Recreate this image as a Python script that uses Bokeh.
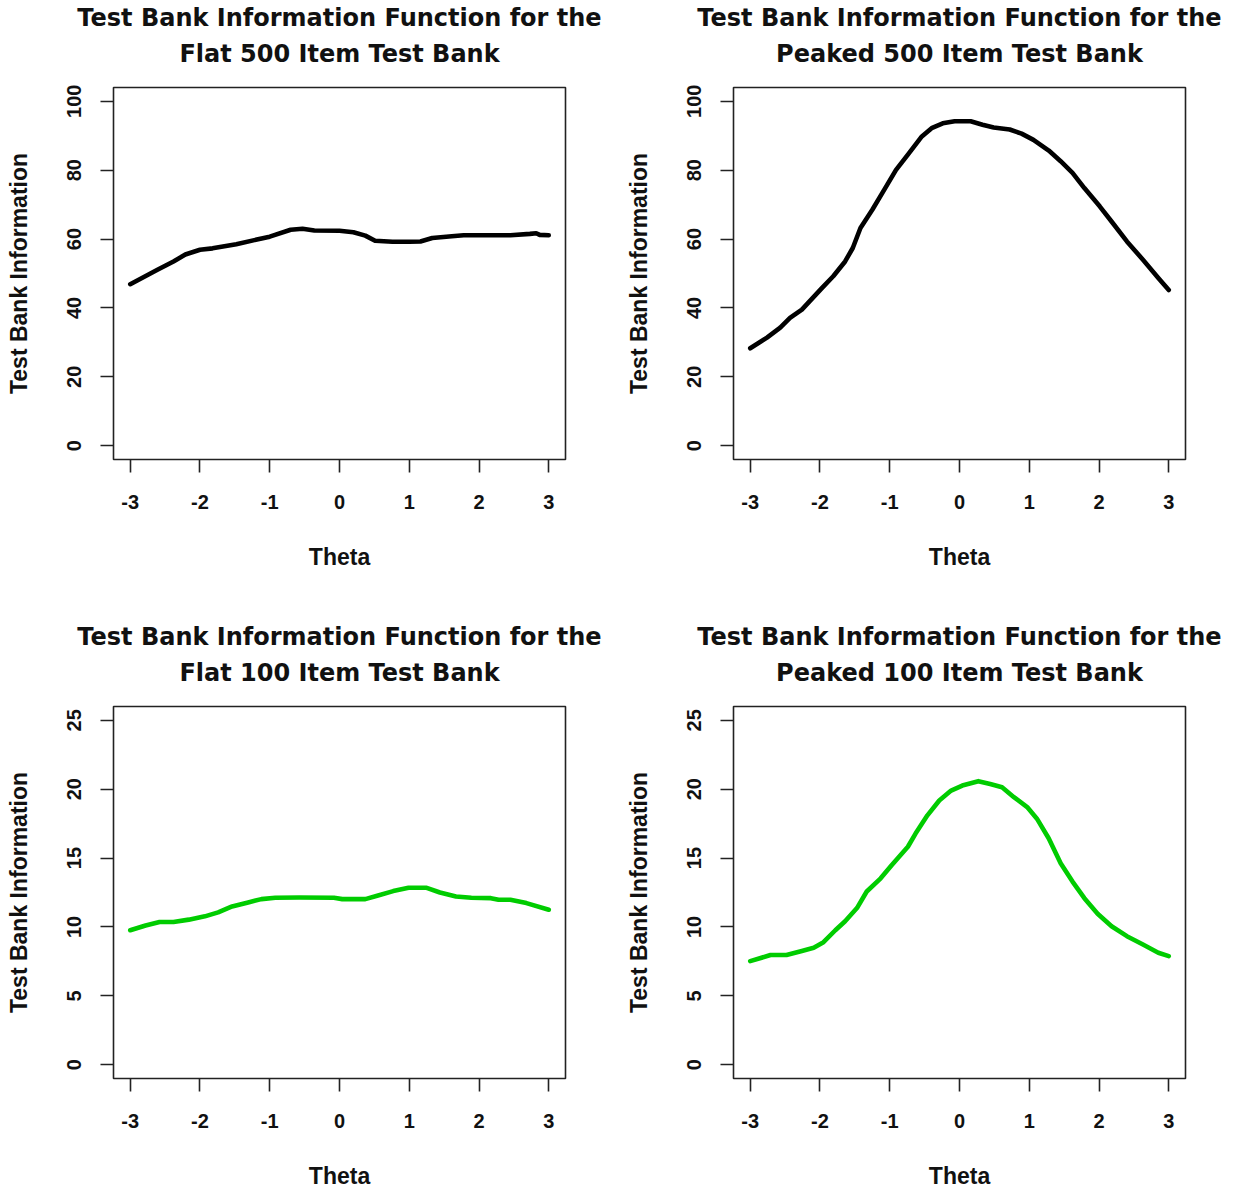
from bokeh.plotting import figure
from bokeh.layouts import column, row
from bokeh.models import FixedTicker, Title
from bokeh.embed import file_html
from bokeh.resources import INLINE

# ---------------- data ----------------
theta_flat500 = [-3.0, -2.61, -2.38, -2.21, -2.0, -1.82, -1.48, -1.0, -0.70, -0.53, -0.36, 0.0,
                 0.2, 0.37, 0.51, 0.76, 1.0, 1.16, 1.33, 1.61, 1.78, 2.0, 2.45, 2.73, 2.82, 2.87, 3.0]
info_flat500 = [46.9, 51.1, 53.5, 55.5, 56.9, 57.3, 58.5, 60.7, 62.7, 63.0, 62.5, 62.4,
                62.0, 61.0, 59.5, 59.2, 59.2, 59.3, 60.3, 60.8, 61.1, 61.1, 61.1, 61.5, 61.7, 61.2, 61.1]

theta_peak500 = [-3.0, -2.76, -2.57, -2.43, -2.26, -2.15, -1.98, -1.81, -1.64, -1.53, -1.42, -1.25,
                 -1.08, -0.91, -0.74, -0.54, -0.40, -0.24, -0.07, 0.16, 0.33, 0.49, 0.72, 0.89,
                 1.06, 1.28, 1.45, 1.62, 1.79, 2.01, 2.18, 2.40, 2.63, 2.85, 3.0]
info_peak500 = [28.3, 31.4, 34.3, 37.1, 39.5, 41.9, 45.6, 49.2, 53.5, 57.4, 63.2, 68.5,
                74.3, 80.1, 84.5, 89.8, 92.2, 93.6, 94.2, 94.2, 93.2, 92.4, 91.8, 90.6,
                88.8, 85.7, 82.6, 79.2, 74.8, 69.5, 65.1, 59.3, 54.0, 48.7, 45.2]

theta_flat100 = [-3.0, -2.78, -2.58, -2.38, -2.16, -1.93, -1.74, -1.54, -1.31, -1.12, -0.92, -0.58,
                 -0.08, 0.04, 0.37, 0.54, 0.77, 0.99, 1.25, 1.44, 1.67, 1.89, 2.17, 2.28, 2.45,
                 2.68, 3.0]
info_flat100 = [9.76, 10.1, 10.36, 10.36, 10.53, 10.77, 11.06, 11.49, 11.78, 12.02, 12.12, 12.14,
                12.12, 12.02, 12.02, 12.26, 12.6, 12.84, 12.84, 12.5, 12.21, 12.12, 12.09, 11.97,
                11.97, 11.73, 11.25]

theta_peak100 = [-3.0, -2.71, -2.48, -2.26, -2.09, -1.95, -1.78, -1.64, -1.47, -1.33, -1.13, -0.97,
                 -0.74, -0.63, -0.46, -0.29, -0.12, 0.04, 0.27, 0.44, 0.61, 0.78, 0.97, 1.11,
                 1.28, 1.45, 1.62, 1.79, 1.98, 2.18, 2.40, 2.63, 2.85, 3.0]
info_peak100 = [7.52, 7.96, 7.96, 8.25, 8.49, 8.89, 9.76, 10.41, 11.37, 12.57, 13.53, 14.5,
                15.82, 16.78, 18.1, 19.18, 19.9, 20.26, 20.58, 20.38, 20.14, 19.42, 18.7, 17.86,
                16.42, 14.62, 13.29, 12.09, 10.96, 10.05, 9.33, 8.73, 8.13, 7.88]

x_ticks = [-3, -2, -1, 0, 1, 2, 3]
x_tick_labels = ["-3", "-2", "-1", "0", "1", "2", "3"]
y_ticks_500 = [0, 20, 40, 60, 80, 100]
y_ticks_100 = [0, 5, 10, 15, 20, 25]

title_line1 = "Test Bank Information Function for the"
title_line2 = [
    "Flat 500 Item Test Bank",
    "Peaked 500 Item Test Bank",
    "Flat 100 Item Test Bank",
    "Peaked 100 Item Test Bank",
]

AX_FONT = "Liberation Sans"
TITLE_FONT = "DejaVu Sans"


def make_panel(line2, xs, ys, color, yticks, ymax, right_border, bottom_border):
    pad = 0.04 * ymax
    p = figure(frame_width=452, frame_height=372,
               x_range=(-3.24, 3.24), y_range=(-pad, ymax + pad),
               output_backend="svg", toolbar_location=None,
               min_border_left=113, min_border_right=right_border,
               min_border_top=87, min_border_bottom=bottom_border,
               background_fill_color="white", border_fill_color="white",
               outline_line_color="#222222", outline_line_width=1.6)
    # first title line (outer)
    p.title.text = title_line1
    p.title.align = "center"
    p.title.text_font = TITLE_FONT
    p.title.text_font_size = "24px"
    p.title.text_font_style = "bold"
    p.title.text_color = "#111111"
    p.title.standoff = -29
    # second title line (closest to the frame)
    p.add_layout(Title(text=line2, align="center", text_font=TITLE_FONT,
                       text_font_size="24px", text_font_style="bold",
                       text_color="#111111", standoff=40), "above")
    p.grid.visible = False
    p.line(xs, ys, line_width=4.6, line_color=color, line_cap="round", line_join="round")

    for ax in (p.xaxis[0], p.yaxis[0]):
        ax.axis_line_color = None
        ax.major_tick_in = 0
        ax.major_tick_out = 13
        ax.major_tick_line_color = "#222222"
        ax.major_tick_line_width = 1.6
        ax.minor_tick_line_color = None
        ax.major_label_text_font = AX_FONT
        ax.major_label_text_font_style = "bold"
        ax.major_label_text_font_size = "20px"
        ax.major_label_text_color = "#111111"
        ax.axis_label_text_font = AX_FONT
        ax.axis_label_text_font_style = "bold"
        ax.axis_label_text_font_size = "23px"
        ax.axis_label_text_color = "#111111"

    p.xaxis.ticker = FixedTicker(ticks=x_ticks)
    p.xaxis.major_label_overrides = {t: s for t, s in zip(x_ticks, x_tick_labels)}
    p.yaxis.ticker = FixedTicker(ticks=yticks)
    p.xaxis.axis_label = "Theta"
    p.yaxis.axis_label = "Test Bank Information"
    p.xaxis.major_label_standoff = 22
    p.xaxis.axis_label_standoff = 32
    p.yaxis.major_label_orientation = "vertical"
    p.yaxis.major_label_standoff = 19
    p.yaxis.axis_label_standoff = 33
    return p


p1 = make_panel(title_line2[0], theta_flat500, info_flat500, "black", y_ticks_500, 100, 55, 160)
p2 = make_panel(title_line2[1], theta_peak500, info_peak500, "black", y_ticks_500, 100, 48, 160)
p3 = make_panel(title_line2[2], theta_flat100, info_flat100, "#00cc00", y_ticks_100, 25, 55, 112)
p4 = make_panel(title_line2[3], theta_peak100, info_peak100, "#00cc00", y_ticks_100, 25, 48, 112)

layout = column(row(p1, p2), row(p3, p4))

open("out.html", "w").write(file_html(layout, INLINE))
